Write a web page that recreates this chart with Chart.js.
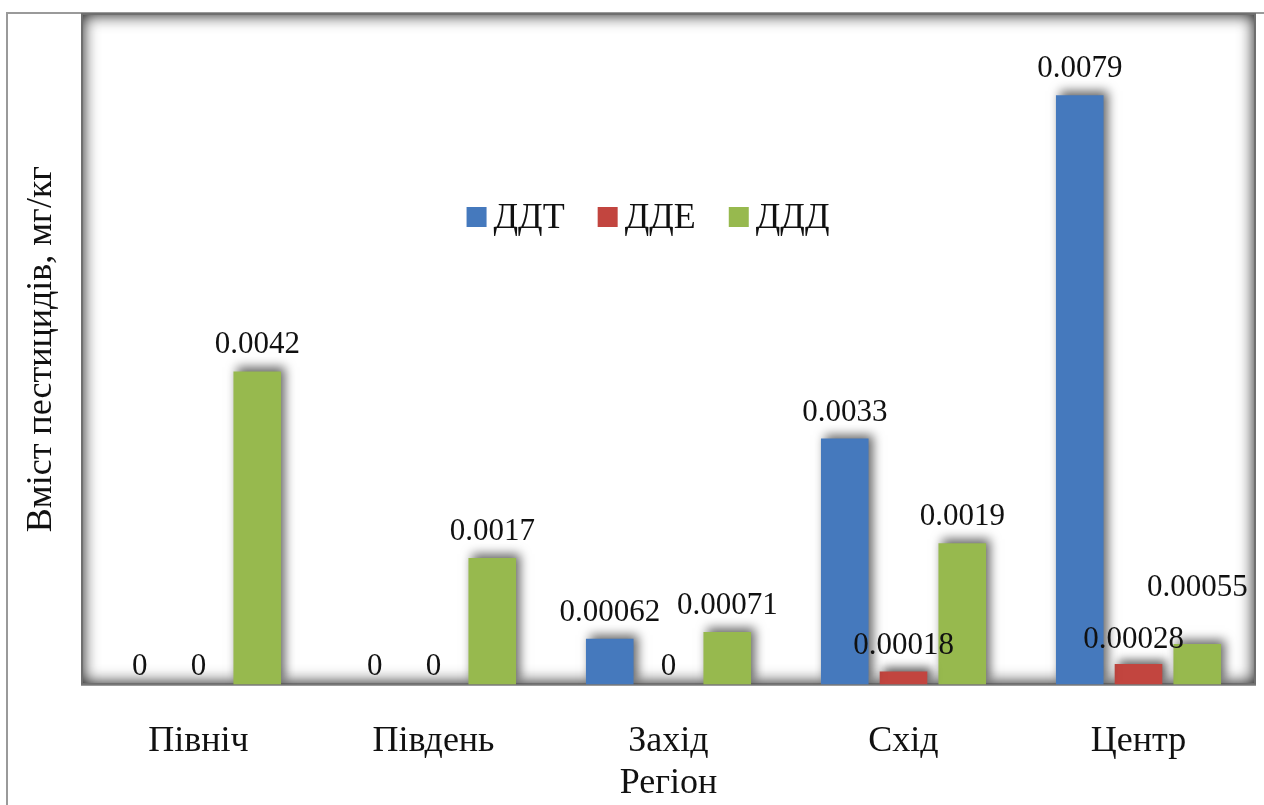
<!DOCTYPE html>
<html>
<head>
<meta charset="utf-8">
<script src="https://cdn.jsdelivr.net/npm/chart.js@4.4.1/dist/chart.umd.min.js"></script>
<style>
  html, body { margin: 0; padding: 0; background: #fff; }
  #wrap { position: relative; width: 1264px; height: 805px; }
</style>
</head>
<body>
<div id="wrap"><canvas id="pestChart" width="1264" height="805"></canvas></div>
<script>
const regions = ["Північ", "Південь", "Захід", "Схід", "Центр"];
const ddtValues = [0, 0, 0.00062, 0.0033, 0.0079];
const ddeValues = [0, 0, 0, 0.00018, 0.00028];
const dddValues = [0.0042, 0.0017, 0.00071, 0.0019, 0.00055];
const seriesNames = ["ДДТ", "ДДЕ", "ДДД"];
const seriesColors = ["#4579BD", "#C2453F", "#97B94E"];

const serif = "'Liberation Serif', 'Times New Roman', serif";

// grey frame + inset shadow of the plot area
const framePlugin = {
  id: "frame",
  beforeDraw(chart) {
    const ctx = chart.ctx;
    const a = chart.chartArea;
    ctx.save();
    ctx.fillStyle = "#fff";
    ctx.fillRect(0, 0, chart.width, chart.height);
    // outer chart border
    ctx.strokeStyle = "#9a9a9a";
    ctx.lineWidth = 2;
    ctx.beginPath();
    ctx.moveTo(7, chart.height + 2);
    ctx.lineTo(7, 13);
    ctx.lineTo(chart.width + 2, 13);
    ctx.stroke();
    ctx.restore();

    ctx.save();
    ctx.beginPath();
    ctx.rect(a.left, a.top, a.right - a.left, a.bottom - a.top);
    ctx.clip();
    ctx.fillStyle = "#fff";
    ctx.fillRect(a.left, a.top, a.right - a.left, a.bottom - a.top);
    ctx.shadowColor = "rgba(0,0,0,0.9)";
    ctx.shadowBlur = 16;
    ctx.strokeStyle = "#6f6f6f";
    ctx.lineWidth = 20;
    ctx.strokeRect(a.left - 8, a.top - 8, a.right - a.left + 16, a.bottom - a.top + 16);
    ctx.restore();
  },
  afterDraw(chart) {
    const ctx = chart.ctx;
    const a = chart.chartArea;
    ctx.save();
    ctx.strokeStyle = "#7a7a7a";
    ctx.lineWidth = 1.5;
    ctx.beginPath();
    ctx.moveTo(a.left, a.bottom);
    ctx.lineTo(a.right, a.bottom);
    ctx.stroke();
    ctx.restore();
  }
};

// soft drop shadow behind bars
const barShadow = {
  id: "barShadow",
  beforeDatasetsDraw(chart) {
    const ctx = chart.ctx;
    ctx.save();
    ctx.shadowColor = "rgba(0,0,0,0.6)";
    ctx.shadowBlur = 10;
    ctx.shadowOffsetX = 4;
    ctx.shadowOffsetY = -4;
  },
  afterDatasetsDraw(chart) {
    chart.ctx.restore();
  }
};

// value labels above bars
const valueLabels = {
  id: "valueLabels",
  afterDatasetsDraw(chart) {
    const ctx = chart.ctx;
    ctx.save();
    ctx.font = "31px " + serif;
    ctx.fillStyle = "#111";
    ctx.textAlign = "center";
    ctx.textBaseline = "alphabetic";
    chart.data.datasets.forEach((ds, di) => {
      const meta = chart.getDatasetMeta(di);
      meta.data.forEach((bar, i) => {
        const v = ds.data[i];
        let lift = v === 0 ? 10 : 18;
        let dx = 0;
        if (di === 2 && i === 4) lift = 48;
        if (di === 1 && i === 4) { dx = -5; lift = 16; }
        ctx.fillText(String(v), bar.x + dx, bar.y - lift);
      });
    });
    ctx.restore();
  }
};

// legend drawn inside the plot area
const innerLegend = {
  id: "innerLegend",
  afterDraw(chart) {
    const ctx = chart.ctx;
    ctx.save();
    ctx.font = "36px " + serif;
    ctx.textBaseline = "middle";
    const box = 20, gapBox = 7, gapItem = 33;
    const items = chart.data.datasets.map(ds => ({
      label: ds.label, color: ds.backgroundColor,
      w: box + gapBox + ctx.measureText(ds.label).width
    }));
    let total = items.reduce((s, it) => s + it.w, 0) + gapItem * (items.length - 1);
    let x = 648 - total / 2;
    const y = 217;
    items.forEach(it => {
      ctx.fillStyle = it.color;
      ctx.fillRect(x, y - box / 2, box, box);
      ctx.fillStyle = "#111";
      ctx.fillText(it.label, x + box + gapBox, y + 2);
      x += it.w + gapItem;
    });
    ctx.restore();
  }
};

new Chart(document.getElementById("pestChart"), {
  type: "bar",
  data: {
    labels: regions,
    datasets: [
      { label: seriesNames[0], data: ddtValues, backgroundColor: seriesColors[0] },
      { label: seriesNames[1], data: ddeValues, backgroundColor: seriesColors[1] },
      { label: seriesNames[2], data: dddValues, backgroundColor: seriesColors[2] }
    ]
  },
  options: {
    responsive: false,
    animation: false,
    devicePixelRatio: 1,
    layout: { padding: { left: 7, top: 13, right: 8, bottom: 0 } },
    datasets: { bar: { categoryPercentage: 0.75, barPercentage: 0.81 } },
    scales: {
      x: {
        grid: { display: false, drawTicks: false },
        border: { display: false },
        ticks: { font: { family: serif, size: 36 }, color: "#111", padding: 35 },
        title: {
          display: true, text: "Регіон",
          font: { family: serif, size: 36 }, color: "#111",
          padding: { top: 0, bottom: 0 }
        },
        afterFit(scale) { scale.height = 120; }
      },
      y: {
        min: 0, max: 0.009,
        grid: { display: false, drawTicks: false },
        border: { display: false },
        ticks: { display: false },
        title: {
          display: true, text: "Вміст пестицидів, мг/кг",
          font: { family: serif, size: 36 }, color: "#111",
          padding: { top: 13, bottom: 0 }
        },
        afterFit(scale) { scale.width = 74; }
      }
    },
    plugins: {
      legend: { display: false },
      tooltip: { enabled: false }
    }
  },
  plugins: [framePlugin, barShadow, valueLabels, innerLegend]
});
</script>
</body>
</html>
